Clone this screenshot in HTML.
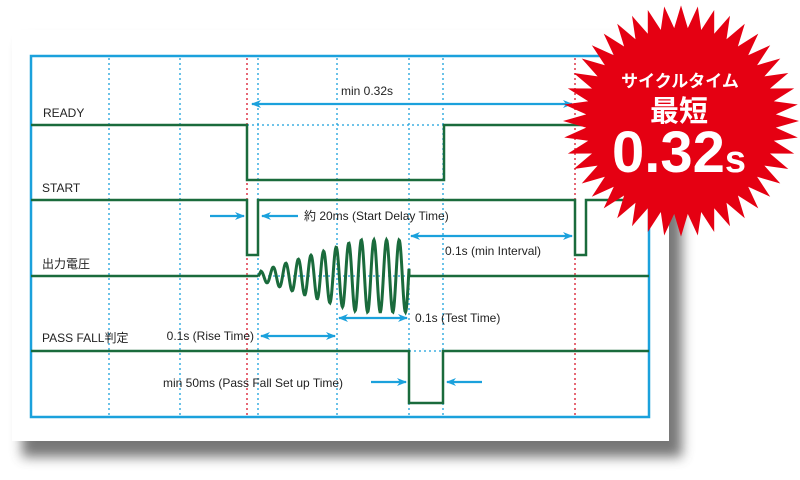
<!DOCTYPE html>
<html><head><meta charset="utf-8"><style>
body{margin:0;width:800px;height:475px;overflow:hidden;background:#fff;font-family:"Liberation Sans","Noto Sans CJK JP",sans-serif}
</style></head><body>
<svg id="s" width="800" height="475" viewBox="0 0 800 475" xmlns="http://www.w3.org/2000/svg">
<defs>
<filter id="sh" x="-10%" y="-10%" width="130%" height="140%"><feGaussianBlur stdDeviation="6"/></filter>
<marker id="a" markerWidth="10" markerHeight="8" refX="9" refY="4" orient="auto" markerUnits="userSpaceOnUse"><path d="M0,0 L10,4 L0,8 L3,4Z" fill="#1ba1dc"/></marker>
<marker id="b" markerWidth="10" markerHeight="8" refX="1" refY="4" orient="auto" markerUnits="userSpaceOnUse"><path d="M10,0 L0,4 L10,8 L7,4Z" fill="#1ba1dc"/></marker>
</defs>
<rect x="22" y="42" width="660" height="415" fill="#555" filter="url(#sh)" opacity="0.8"/>
<rect x="12" y="30" width="657" height="411" fill="#fff"/>
<g stroke="#1ba1dc" stroke-width="1.3" stroke-dasharray="2,3" fill="none">
<line x1="109" y1="58" x2="109" y2="416"/><line x1="180" y1="58" x2="180" y2="416"/>
<line x1="258" y1="58" x2="258" y2="416"/><line x1="337" y1="58" x2="337" y2="416"/>
<line x1="409" y1="58" x2="409" y2="416"/><line x1="443" y1="58" x2="443" y2="416"/>
<line x1="247" y1="125" x2="444" y2="125"/><line x1="258" y1="276" x2="409" y2="276"/>
<line x1="409" y1="351" x2="443" y2="351"/>
</g>
<g stroke="#d9182d" stroke-width="1.3" stroke-dasharray="2,3"><line x1="247" y1="58" x2="247" y2="416"/><line x1="575" y1="58" x2="575" y2="416"/></g>
<rect x="31" y="56" width="618" height="361" fill="none" stroke="#1ba1dc" stroke-width="2.5"/>
<g stroke="#1a6b3c" stroke-width="2.5" fill="none">
<path d="M31,125 H247 V180 H444 V125 H649"/>
<path d="M31,200 H247 V255 H258 V200 H575 V255 H586 V200 H649"/>
<path d="M31,276 H258"/><path d="M409,276 H649"/>
<path d="M31,351 H409 V403 H443 V351 H649"/>
<path id="sine" stroke-width="3"/>
</g>
<g stroke="#1ba1dc" stroke-width="2.2" fill="none">
<line x1="252" y1="104" x2="572" y2="104" marker-start="url(#b)" marker-end="url(#a)"/>
<line x1="210" y1="216" x2="244" y2="216" marker-end="url(#a)"/>
<line x1="298" y1="216" x2="262" y2="216" marker-end="url(#a)"/>
<line x1="411" y1="236" x2="572" y2="236" marker-start="url(#b)" marker-end="url(#a)"/>
<line x1="339" y1="318" x2="407" y2="318" marker-start="url(#b)" marker-end="url(#a)"/>
<line x1="261" y1="336" x2="335" y2="336" marker-start="url(#b)" marker-end="url(#a)"/>
<line x1="371" y1="382" x2="406" y2="382" marker-end="url(#a)"/>
<line x1="482" y1="382" x2="447" y2="382" marker-end="url(#a)"/>
</g>
<g font-size="12" fill="#222">
<text x="43" y="117">READY</text><text x="42" y="192">START</text>
<text x="42" y="268">出力電圧</text><text x="42" y="342">PASS FALL判定</text>
<text x="341" y="95">min 0.32s</text>
<text x="304" y="220">約 20ms (Start Delay Time)</text>
<text x="445" y="255">0.1s (min Interval)</text>
<text x="415" y="322">0.1s (Test Time)</text>
<text x="254" y="340" text-anchor="end">0.1s (Rise Time)</text>
<text x="163" y="387">min 50ms (Pass Fall Set up Time)</text>
</g>
<path id="burst" fill="#e50012"/>
<g fill="#fff" font-weight="bold" text-anchor="middle">
<text x="680" y="87" font-size="17">サイクルタイム</text>
<text x="679" y="121" font-size="29">最短</text>
<text x="679" y="172" font-size="58" letter-spacing="0">0.32<tspan font-size="38">s</tspan></text>
</g>
</svg>
<script>
let d="M258,276";
for(let x=258;x<=409;x+=0.5){let t=(x-258)/151;let A=4+32*Math.min(1,t*1.5);let y=276-A*Math.sin((x-258)/12.6*2*Math.PI+0.3)*Math.min(1,(x-258)/3);d+=" L"+x+","+y.toFixed(1);}
d+=" L409,276";document.getElementById("sine").setAttribute("d",d);
let b="",n=44,cx=681,cy=121;
for(let i=0;i<n*2;i++){let r=i%2==0?118:95;let a=i*Math.PI/n;let x=cx+r*Math.cos(a),y=cy+r*0.98*Math.sin(a);b+=(i?"L":"M")+x.toFixed(1)+","+y.toFixed(1);}
document.getElementById("burst").setAttribute("d",b+"Z");
</script>
</body></html>
